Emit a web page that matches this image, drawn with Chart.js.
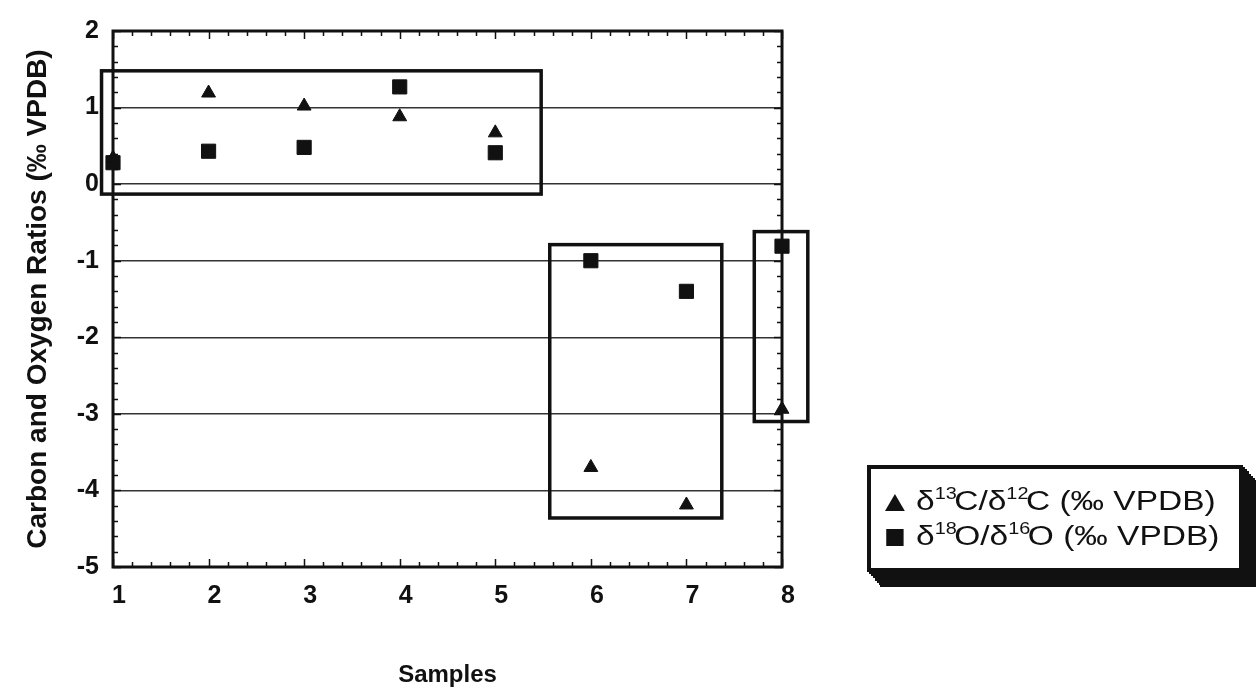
<!DOCTYPE html>
<html>
<head>
<meta charset="utf-8">
<script src="https://cdn.jsdelivr.net/npm/chart.js@4.4.1/dist/chart.umd.min.js"></script>
<style>
  html, body { margin:0; padding:0; background:#fff; }
  #wrap { position:relative; width:1256px; height:698px; }
  #chart { position:absolute; left:0; top:0; }
  #legend {
    position:absolute; left:867px; top:465px; width:368px; height:99px;
    border:4px solid #111; background:#fff;
    font-family:"Liberation Sans", Arial, sans-serif; font-size:27px; color:#111;
    box-shadow:2px 2px 0 #111,4px 4px 0 #111,6px 6px 0 #111,8px 9px 0 #111,10px 11px 0 #111,12px 13px 0 #111,13px 15px 0 #111;
    box-sizing:content-box;
  }
  #legend .row { position:absolute; left:14px; height:35px; line-height:35px; white-space:nowrap; transform:scaleX(1.24); transform-origin:0 50%; }
  #legend sup { font-size:16px; vertical-align:0; position:relative; top:-11px; margin-right:-2px; }
  .tri { display:inline-block; width:0; height:0; border-left:8px solid transparent; border-right:8px solid transparent; border-bottom:17px solid #111; margin-right:9px; vertical-align:-1px; }
  .sq { display:inline-block; width:14px; height:17px; background:#111; margin-right:10px; margin-left:1px; vertical-align:-1px; }
</style>
</head>
<body>
<div id="wrap">
  <canvas id="chart" width="1256" height="698"></canvas>
  <div id="legend"></div>
</div>
<script>
// data
const samples = [1, 2, 3, 4, 5, 6, 7, 8];
const carbonRatio = [0.34, 1.19, 1.02, 0.88, 0.67, -3.70, -4.19, -2.94];
const oxygenRatio = [0.28, 0.43, 0.48, 1.27, 0.41, -1.00, -1.40, -0.81];
const seriesNames = ["δ13C/δ12C (‰ VPDB)", "δ18O/δ16O (‰ VPDB)"];
const legendHtml = ["δ<sup>13</sup>C/δ<sup>12</sup>C (‰ VPDB)", "δ<sup>18</sup>O/δ<sup>16</sup>O (‰ VPDB)"];
const yTicks = [2, 1, 0, -1, -2, -3, -4, -5];
const xTicks = [1, 2, 3, 4, 5, 6, 7, 8];
// group boxes in data units: [xFrom, xTo, yFrom, yTo]
const groupBoxes = [
  [0.88, 5.48, -0.13, 1.48],
  [5.57, 7.37, -4.36, -0.79],
  [7.71, 8.27, -3.10, -0.62]
];

const font = '"Liberation Sans", Arial, sans-serif';

// frame, inward ticks and group boxes
const frameTicks = {
  id: 'frameTicks',
  afterDraw(chart) {
    const { ctx, chartArea: a, scales: { x, y } } = chart;
    ctx.save();
    ctx.strokeStyle = '#111';
    ctx.lineWidth = 1.5;
    const xMin = xTicks[0], yMin = yTicks[yTicks.length - 1];
    const nx = (xTicks[xTicks.length - 1] - xMin) * 5;
    for (let i = 0; i <= nx; i++) {
      const px = Math.round(x.getPixelForValue(xMin + i * 0.2)) + 0.5;
      const len = i % 5 === 0 ? 8 : 5;
      ctx.beginPath();
      ctx.moveTo(px, a.bottom); ctx.lineTo(px, a.bottom - len);
      ctx.moveTo(px, a.top); ctx.lineTo(px, a.top + len);
      ctx.stroke();
    }
    const ny = (yTicks[0] - yMin) * 5;
    for (let i = 0; i <= ny; i++) {
      const py = Math.round(y.getPixelForValue(yMin + i * 0.2)) + 0.5;
      const len = i % 5 === 0 ? 8 : 5;
      ctx.beginPath();
      ctx.moveTo(a.left, py); ctx.lineTo(a.left + len, py);
      ctx.moveTo(a.right, py); ctx.lineTo(a.right - len, py);
      ctx.stroke();
    }
    ctx.lineWidth = 3;
    ctx.strokeRect(a.left, a.top, a.right - a.left, a.bottom - a.top);
    ctx.lineWidth = 3.5;
    groupBoxes.forEach(b => {
      const x0 = x.getPixelForValue(b[0]), x1 = x.getPixelForValue(b[1]);
      const y0 = y.getPixelForValue(b[3]), y1 = y.getPixelForValue(b[2]);
      ctx.strokeRect(x0, y0, x1 - x0, y1 - y0);
    });
    ctx.restore();
  }
};

new Chart(document.getElementById('chart'), {
  type: 'scatter',
  data: {
    datasets: [
      {
        label: seriesNames[0],
        data: samples.map((s, i) => ({ x: s, y: carbonRatio[i] })),
        pointStyle: 'triangle', pointRadius: 8,
        backgroundColor: '#111', borderColor: '#111', borderWidth: 1
      },
      {
        label: seriesNames[1],
        data: samples.map((s, i) => ({ x: s, y: oxygenRatio[i] })),
        pointStyle: 'rect', pointRadius: 10,
        backgroundColor: '#111', borderColor: '#111', borderWidth: 1
      }
    ]
  },
  options: {
    responsive: false,
    animation: false,
    clip: false,
    layout: { padding: { left: 0, top: 31, right: 474, bottom: 0 } },
    plugins: { legend: { display: false }, tooltip: { enabled: false } },
    scales: {
      x: {
        type: 'linear', min: 1, max: 8,
        grid: { display: false },
        border: { display: false },
        afterFit: s => { s.height = 131; },
        afterBuildTicks: s => { s.ticks = xTicks.map(v => ({ value: v })); },
        ticks: { padding: 6, labelOffset: 6, color: '#111', font: { family: font, size: 25, weight: 'bold' } },
        title: { display: true, text: 'Samples', color: '#111', padding: { top: 0, bottom: 8 }, font: { family: font, size: 24, weight: 'bold' } }
      },
      y: {
        min: -5, max: 2,
        grid: { color: '#333', lineWidth: 1.5, drawTicks: false },
        border: { display: false },
        afterFit: s => { s.width = 113; },
        afterBuildTicks: s => { s.ticks = yTicks.map(v => ({ value: v })); },
        ticks: { padding: 14, color: '#111', font: { family: font, size: 25, weight: 'bold' } },
        title: { display: true, text: 'Carbon and Oxygen Ratios (‰ VPDB)', color: '#111', padding: { top: 21, bottom: 0 }, font: { family: font, size: 28, weight: 'bold' } }
      }
    }
  },
  plugins: [frameTicks]
});

// legend built from the series
const legend = document.getElementById('legend');
const rowTops = [15, 50];
legendHtml.forEach((h, i) => {
  const row = document.createElement('div');
  row.className = 'row';
  row.style.top = rowTops[i] + 'px';
  row.innerHTML = `<span class="${i === 0 ? 'tri' : 'sq'}"></span>${h}`;
  legend.appendChild(row);
});
</script>
</body>
</html>
